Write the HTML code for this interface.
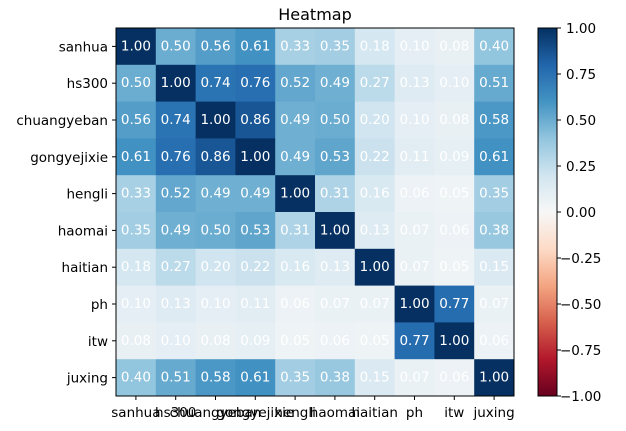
<!DOCTYPE html>
<html><head><meta charset="utf-8"><style>
html,body{margin:0;padding:0;background:#fff;}
svg{display:block;font-family:"DejaVu Sans","Liberation Sans",sans-serif;}
.c{fill:#fff;font-size:13.5px;text-anchor:middle;dominant-baseline:central;}
.l{font-size:13.5px;fill:#000;}
</style></head><body>
<svg id="s" width="626" height="431" viewBox="0 0 626 431" xmlns="http://www.w3.org/2000/svg">
<defs><linearGradient id="g" x1="0" y1="0" x2="0" y2="1">
<stop offset="0" stop-color="#053061"/><stop offset="0.1" stop-color="#2166ac"/><stop offset="0.2" stop-color="#4393c3"/><stop offset="0.3" stop-color="#92c5de"/><stop offset="0.4" stop-color="#d1e5f0"/><stop offset="0.5" stop-color="#f7f7f7"/><stop offset="0.6" stop-color="#fddbc7"/><stop offset="0.7" stop-color="#f4a582"/><stop offset="0.8" stop-color="#d6604d"/><stop offset="0.9" stop-color="#b2182b"/><stop offset="1" stop-color="#67001f"/>
</linearGradient></defs>
<text x="315" y="20" text-anchor="middle" style="font-size:16px">Heatmap</text>
<g id="cells"></g>
<g id="data">
<g><text class="c">1.00</text><text class="c">0.50</text><text class="c">0.56</text><text class="c">0.61</text><text class="c">0.33</text><text class="c">0.35</text><text class="c">0.18</text><text class="c">0.10</text><text class="c">0.08</text><text class="c">0.40</text></g>
<g><text class="c">0.50</text><text class="c">1.00</text><text class="c">0.74</text><text class="c">0.76</text><text class="c">0.52</text><text class="c">0.49</text><text class="c">0.27</text><text class="c">0.13</text><text class="c">0.10</text><text class="c">0.51</text></g>
<g><text class="c">0.56</text><text class="c">0.74</text><text class="c">1.00</text><text class="c">0.86</text><text class="c">0.49</text><text class="c">0.50</text><text class="c">0.20</text><text class="c">0.10</text><text class="c">0.08</text><text class="c">0.58</text></g>
<g><text class="c">0.61</text><text class="c">0.76</text><text class="c">0.86</text><text class="c">1.00</text><text class="c">0.49</text><text class="c">0.53</text><text class="c">0.22</text><text class="c">0.11</text><text class="c">0.09</text><text class="c">0.61</text></g>
<g><text class="c">0.33</text><text class="c">0.52</text><text class="c">0.49</text><text class="c">0.49</text><text class="c">1.00</text><text class="c">0.31</text><text class="c">0.16</text><text class="c">0.06</text><text class="c">0.05</text><text class="c">0.35</text></g>
<g><text class="c">0.35</text><text class="c">0.49</text><text class="c">0.50</text><text class="c">0.53</text><text class="c">0.31</text><text class="c">1.00</text><text class="c">0.13</text><text class="c">0.07</text><text class="c">0.06</text><text class="c">0.38</text></g>
<g><text class="c">0.18</text><text class="c">0.27</text><text class="c">0.20</text><text class="c">0.22</text><text class="c">0.16</text><text class="c">0.13</text><text class="c">1.00</text><text class="c">0.07</text><text class="c">0.05</text><text class="c">0.15</text></g>
<g><text class="c">0.10</text><text class="c">0.13</text><text class="c">0.10</text><text class="c">0.11</text><text class="c">0.06</text><text class="c">0.07</text><text class="c">0.07</text><text class="c">1.00</text><text class="c">0.77</text><text class="c">0.07</text></g>
<g><text class="c">0.08</text><text class="c">0.10</text><text class="c">0.08</text><text class="c">0.09</text><text class="c">0.05</text><text class="c">0.06</text><text class="c">0.05</text><text class="c">0.77</text><text class="c">1.00</text><text class="c">0.06</text></g>
<g><text class="c">0.40</text><text class="c">0.51</text><text class="c">0.58</text><text class="c">0.61</text><text class="c">0.35</text><text class="c">0.38</text><text class="c">0.15</text><text class="c">0.07</text><text class="c">0.06</text><text class="c">1.00</text></g>
</g>
<rect x="116" y="28" width="398" height="368" fill="none" stroke="#000" stroke-width="1"/>
<g id="ylab" class="l" text-anchor="end">
<text>sanhua</text><text>hs300</text><text>chuangyeban</text><text>gongyejixie</text><text>hengli</text><text>haomai</text><text>haitian</text><text>ph</text><text>itw</text><text>juxing</text>
</g>
<g id="xlab" class="l" text-anchor="middle">
<text>sanhua</text><text>hs300</text><text>chuangyeban</text><text>gongyejixie</text><text>hengli</text><text>haomai</text><text>haitian</text><text>ph</text><text>itw</text><text>juxing</text>
</g>
<g id="ticks" stroke="#000" stroke-width="1"></g>
<rect x="538" y="28" width="19" height="368" fill="url(#g)" stroke="#000" stroke-width="1"/>
<g class="l" id="cb">
<text x="566" y="33">1.00</text><text x="566" y="79">0.75</text><text x="566" y="125">0.50</text><text x="566" y="171">0.25</text><text x="566" y="217">0.00</text><text x="560" y="263">−0.25</text><text x="560" y="309">−0.50</text><text x="560" y="355">−0.75</text><text x="560" y="401">−1.00</text>
</g>
</svg>
<script>
var st=[[0,[5,48,97]],[.1,[33,102,172]],[.2,[67,147,195]],[.3,[146,197,222]],[.4,[209,229,240]],[.5,[247,247,247]],[.6,[253,219,199]],[.7,[244,165,130]],[.8,[214,96,77]],[.9,[178,24,43]],[1,[103,0,31]]];
function col(v){var t=(1-v)/2;for(var i=0;i<st.length-1;i++){if(t<=st[i+1][0]){var f=(t-st[i][0])/(st[i+1][0]-st[i][0]);var a=st[i][1],b=st[i+1][1];return 'rgb('+a.map(function(x,k){return Math.round(x+(b[k]-x)*f)}).join(',')+')';}}return 'rgb(103,0,31)';}
var NS='http://www.w3.org/2000/svg',L=116,T=28,W=39.8,H=36.8;
var rows=document.querySelectorAll('#data > g'),cells=document.getElementById('cells');
rows.forEach(function(r,i){r.querySelectorAll('text').forEach(function(t,j){
var rc=document.createElementNS(NS,'rect');rc.setAttribute('x',L+W*j);rc.setAttribute('y',T+H*i);rc.setAttribute('width',W+0.5);rc.setAttribute('height',H+0.5);rc.setAttribute('fill',col(parseFloat(t.textContent)));cells.appendChild(rc);
t.setAttribute('x',L+W*(j+.5));t.setAttribute('y',T+H*(i+.5));});});
var tk=document.getElementById('ticks');
function ln(x1,y1,x2,y2){var l=document.createElementNS(NS,'line');l.setAttribute('x1',x1);l.setAttribute('y1',y1);l.setAttribute('x2',x2);l.setAttribute('y2',y2);tk.appendChild(l);}
document.querySelectorAll('#ylab text').forEach(function(t,i){var y=T+H*(i+.5);t.setAttribute('x',108);t.setAttribute('y',y+5);ln(112,y,116,y);});
document.querySelectorAll('#xlab text').forEach(function(t,i){var x=L+W*(i+.5);t.setAttribute('x',x);t.setAttribute('y',417);ln(x,396,x,400);});
for(var k=0;k<9;k++){var y=28+46*k;ln(557,y,561,y);}
</script>
</body></html>
